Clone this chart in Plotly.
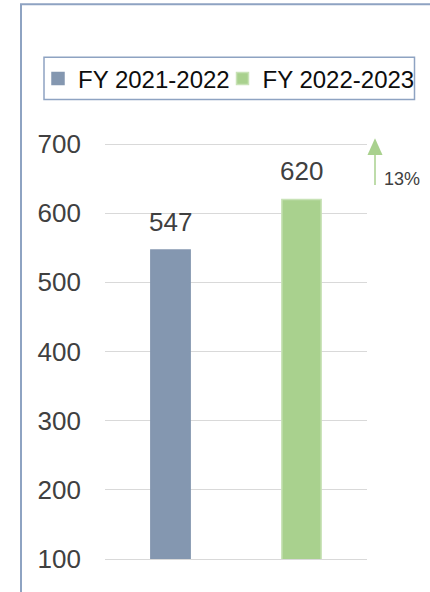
import plotly.graph_objects as go

# ---- data ----
series_names = ["FY 2021-2022", "FY 2022-2023"]
values = [547, 620]
bar_colors = ["#8497B0", "#A9D18E"]
bar_line_colors = ["#8497B0", "#C8E2B6"]
y_ticks = [100, 200, 300, 400, 500, 600, 700]

growth_pct = round((values[1] - values[0]) / values[0] * 100)

W, H = 430, 592
ML, MR, MT, MB = 105, 63, 142, 33
PW, PH = W - ML - MR, H - MT - MB


def px_x(px):
    return (px - ML) / PW


def px_y(py):
    return (H - MB - py) / PH


FONT = "Liberation Sans, Arial, sans-serif"
TXT = "#404040"
legend_ids = ["legend", "legend2"]
legend_left_px = [38, 222.5]

fig = go.Figure()
for name, v, c, lc, lid in zip(series_names, values, bar_colors, bar_line_colors, legend_ids):
    fig.add_trace(go.Bar(
        x=[name], y=[v], name=name, width=0.3, legend=lid,
        marker=dict(color=c, line=dict(color=lc, width=1.5)),
        hoverinfo="name+y",
    ))
    fig.add_annotation(
        x=name, y=v, xref="x", yref="y", text=str(v), showarrow=False,
        yanchor="bottom", yshift=11, font=dict(family=FONT, size=26, color=TXT),
    )

shapes = [
    # outer chart frame
    dict(type="rect", xref="paper", yref="paper",
         x0=px_x(21), x1=px_x(W + 40), y0=px_y(H + 40), y1=px_y(4.3),
         line=dict(color="#8EA3C2", width=2), fillcolor="rgba(0,0,0,0)", layer="above"),
    # legend frame
    dict(type="rect", xref="paper", yref="paper",
         x0=px_x(44), x1=px_x(414.5), y0=px_y(99.5), y1=px_y(57.3),
         line=dict(color="#8EA3C2", width=1.5), fillcolor="rgba(0,0,0,0)", layer="above"),
    # growth arrow shaft
    dict(type="line", xref="paper", yref="paper",
         x0=px_x(375), x1=px_x(375), y0=px_y(185), y1=px_y(154),
         line=dict(color="#A9D18E", width=1.5)),
    # growth arrow head
    dict(type="path", xref="paper", yref="paper",
         path=f"M {px_x(367.5)} {px_y(155)} L {px_x(382.5)} {px_y(155)} L {px_x(375)} {px_y(138.3)} Z",
         fillcolor="#A9D18E", line=dict(color="#A9D18E", width=0)),
]

fig.add_annotation(
    xref="paper", yref="paper", x=px_x(382), y=px_y(178.7), xanchor="left", yanchor="middle",
    text=f"{growth_pct}%", showarrow=False, font=dict(family=FONT, size=18, color=TXT),
)

legend_style = dict(
    orientation="h", xanchor="left", y=px_y(78.8), yanchor="middle",
    font=dict(family=FONT, size=24, color="#0D0D0D"),
    bgcolor="rgba(0,0,0,0)", borderwidth=0,
)

fig.update_layout(
    width=W, height=H,
    margin=dict(l=ML, r=MR, t=MT, b=MB, autoexpand=False),
    paper_bgcolor="white", plot_bgcolor="white",
    barmode="overlay",
    showlegend=True,
    legend=dict(x=px_x(legend_left_px[0]), **legend_style),
    legend2=dict(x=px_x(legend_left_px[1]), **legend_style),
    shapes=shapes,
    xaxis=dict(
        type="category", showticklabels=False, showgrid=False, ticks="",
        showline=True, linecolor="#D9D9D9", linewidth=1, zeroline=False, fixedrange=True,
    ),
    yaxis=dict(
        range=[100, 703], tickvals=y_ticks, ticktext=[str(t) for t in y_ticks],
        showgrid=True, gridcolor="#D9D9D9", gridwidth=1, zeroline=False, showline=False,
        ticks="", ticklabelstandoff=23,
        tickfont=dict(family=FONT, size=26, color=TXT), fixedrange=True,
    ),
)

fig.write_html(
    "out.html",
    config={"displayModeBar": False},
    post_script="document.body.style.margin='0';document.body.style.overflow='hidden';",
)
